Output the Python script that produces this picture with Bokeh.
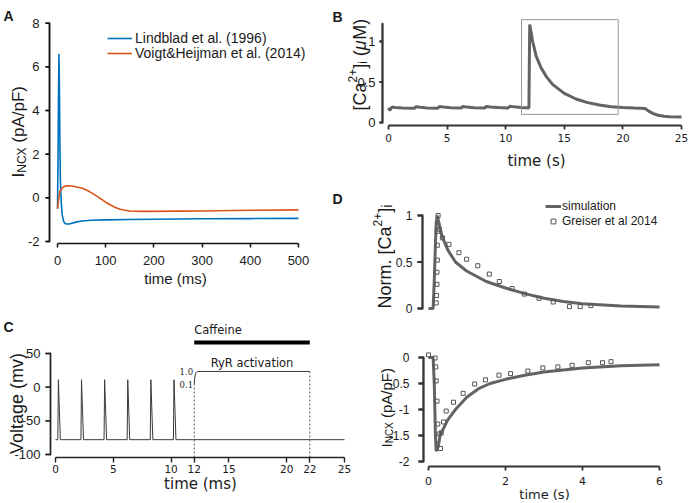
import math
from bokeh.plotting import figure
from bokeh.models import (Range1d, FixedTicker, Label, Legend, LegendItem, NumeralTickFormatter,
                          BoxAnnotation)
from bokeh.layouts import row, column
from bokeh.embed import file_html
from bokeh.resources import INLINE

# ---------------- Panel A : I_NCX during an AP ----------------
a_t_lindblad = [0, 1, 2, 3, 4, 5, 6, 8, 10, 13, 16, 20, 24, 30, 40, 50, 70, 100, 150, 200, 300, 400, 500]
a_i_lindblad = [-0.5, 1.5, 4.5, 6.6, 5.0, 2.5, 0.8, -0.3, -0.8, -1.1, -1.18, -1.2, -1.2, -1.16, -1.1,
                -1.06, -1.03, -1.01, -0.99, -0.98, -0.96, -0.95, -0.94]
a_t_voigt = [0, 2, 5, 10, 15, 20, 30, 40, 50, 60, 70, 80, 90, 100, 110, 120, 130, 140, 150, 170, 200,
             250, 300, 400, 500]
a_i_voigt = [-0.5, -0.1, 0.3, 0.47, 0.53, 0.55, 0.54, 0.5, 0.45, 0.36, 0.24, 0.1, -0.05, -0.2, -0.33,
             -0.44, -0.52, -0.57, -0.6, -0.62, -0.62, -0.61, -0.6, -0.57, -0.55]
a_labels = ["Lindblad et al. (1996)", "Voigt&Heijman et al. (2014)"]
a_xticks = [0, 100, 200, 300, 400, 500]
a_yticks = [-2, 0, 2, 4, 6, 8]

# ---------------- Panel B : [Ca2+]i over the protocol ----------------
b_t = [0, 0.1, 0.3, 0.6, 1.2, 2.2, 2.35, 2.7, 3.3, 4.2, 4.35, 4.7, 5.3, 6.2, 6.35, 6.7, 7.3, 8.2, 8.35,
       8.7, 9.3, 10.2, 10.35, 10.7, 11.3, 11.98, 12.05, 12.3, 12.6, 13.0, 13.5, 14.0, 15.0, 16.0, 17.0,
       18.0, 19.0, 20.0, 21.0, 21.9, 22.2, 22.6, 23.0, 23.5, 24.0, 25.0]
b_ca = [0.18, 0.15, 0.19, 0.185, 0.178, 0.175, 0.195, 0.188, 0.18, 0.177, 0.197, 0.19, 0.182, 0.178,
        0.198, 0.19, 0.183, 0.179, 0.198, 0.191, 0.184, 0.18, 0.2, 0.193, 0.186, 0.18, 1.21, 1.0, 0.82,
        0.68, 0.56, 0.47, 0.36, 0.29, 0.245, 0.215, 0.195, 0.185, 0.178, 0.172, 0.14, 0.11, 0.09, 0.078,
        0.072, 0.068]
b_box_left = [11.35]
b_box_right = [19.6]
b_box_bottom = [0.1]
b_box_top = [1.27]
b_xticks = [0, 5, 10, 15, 20, 25]
b_yticks = [0, 0.5, 1]

# ---------------- Panel C : stimulation protocol ----------------
c_t = [0, 0.2, 0.25, 0.42, 2.2, 2.25, 2.42, 4.2, 4.25, 4.42, 6.2, 6.25, 6.42, 8.2, 8.25, 8.42, 10.2,
       10.25, 10.42, 25]
c_v = [-78, -78, 11, -78, -78, 11, -78, -78, 11, -78, -78, 11, -78, -78, 11, -78, -78, 11, -78, -78]
c_ryr_t = [12.0, 12.03, 12.08, 12.15, 12.25, 22.0]
c_ryr_v = [4.0, 11.5, 17.5, 21.5, 23.3, 23.3]
c_dash_x = [12, 22]
c_dash_bottom = [-104.5, -104.5]
c_dash_top = [4.0, 23.3]
c_caffeine_t = [12, 22]
c_caffeine_level = [66.3, 66.3]
c_caffeine_text = (12, 85.6)
c_ryr_text = (17, 36.6)
c_ryr_levels = [("1.0", 23.3), ("0.1", 4.0)]
c_xticks = [0, 5, 10, 12, 15, 20, 22, 25]
c_yticks = [-100, -50, 0, 50]

# ---------------- Panel D : caffeine transient ----------------
d_top_t = [0, 0.12, 0.15, 0.18, 0.2, 0.23, 0.27, 0.35, 0.5, 0.7, 1.0, 1.5, 2.0, 2.5, 3.0, 3.5, 4.0,
           5.0, 6.0]
d_top_v = [0, 0, 0.3, 0.7, 0.92, 1.0, 0.92, 0.78, 0.63, 0.5, 0.4, 0.29, 0.22, 0.16, 0.11, 0.075, 0.05,
           0.028, 0.015]
d_top_sq_t = [0.2, 0.21, 0.22, 0.22, 0.23, 0.23, 0.24, 0.25, 0.28, 0.36, 0.53, 0.79, 0.99, 1.28, 1.58,
              1.84, 2.17, 2.49, 2.87, 3.24, 3.66, 3.94, 4.22]
d_top_sq_v = [0.06, 0.14, 0.26, 0.39, 0.52, 0.68, 0.83, 1.0, 0.85, 0.76, 0.69, 0.6, 0.53, 0.46, 0.37,
              0.29, 0.215, 0.155, 0.11, 0.07, 0.02, 0.02, 0.03]
d_bot_t = [0, 0.12, 0.15, 0.18, 0.2, 0.25, 0.3, 0.5, 0.7, 1.0, 1.3, 1.6, 2.0, 2.5, 3.0, 3.5, 4.0, 5.0, 6.0]
d_bot_v = [0, 0, -0.5, -1.5, -1.8, -1.72, -1.5, -1.2, -1.0, -0.76, -0.6, -0.5, -0.42, -0.34, -0.28,
           -0.24, -0.2, -0.16, -0.14]
d_bot_sq_t = [0.0, 0.17, 0.19, 0.2, 0.22, 0.24, 0.28, 0.31, 0.33, 0.39, 0.46, 0.65, 0.9, 1.2, 1.48, 1.83,
              2.13, 2.58, 2.97, 3.36, 3.73, 4.15, 4.52, 4.74]
d_bot_sq_v = [0.05, -0.01, -0.18, -0.45, -0.84, -1.28, -1.47, -1.75, -1.45, -1.24, -1.03, -0.86, -0.69,
              -0.51, -0.43, -0.34, -0.31, -0.26, -0.2, -0.18, -0.15, -0.1, -0.1, -0.08]
d_labels = ["simulation", "Greiser et al 2014"]
d_xticks = [0, 2, 4, 6]
d_top_yticks = [0, 0.5, 1]
d_bot_yticks = [-2, -1.5, -1, -0.5, 0]

# ---------------- styling helpers ----------------
TXT = "#1a1a1a"
HELV = "Liberation Sans"
DJV = "DejaVu Sans"
GRAY = "#636363"

# approximate Arial/Liberation Sans advance widths (em) for composite labels
CW = {' ': .278, '(': .333, ')': .333, '[': .278, ']': .278, '.': .278, '/': .278, '+': .584,
      '2': .556, 'A': .667, 'C': .722, 'F': .611, 'I': .278, 'M': .833, 'N': .722, 'X': .667,
      'a': .556, 'i': .222, 'm': .833, 'o': .556, 'p': .556, 'r': .333, 'μ': .576}


def text_w(s, size):
    return sum(CW.get(c, .556) for c in s) * size


class LinMap:
    """linear map between page pixels and data values, both ways"""

    def __init__(self, p0, v0, p1, v1):
        self.p0, self.v0 = p0, v0
        self.k = (v1 - v0) / (p1 - p0)

    def __call__(self, px):
        return self.v0 + (px - self.p0) * self.k

    def page(self, v):
        return self.p0 + (v - self.v0) / self.k


def make_fig(box, fx, fy, xaxis=True):
    left, top, right, bottom = box
    p = figure(width=right - left, height=bottom - top,
               x_range=Range1d(fx(left), fx(right)), y_range=Range1d(fy(bottom), fy(top)),
               output_backend="svg", toolbar_location=None, min_border=0,
               x_axis_location="below" if xaxis else None)
    p.grid.visible = False
    p.outline_line_color = None
    return p


def style_axis(ax, ticks, bounds, loc, font, size, color="#222222", lw=1.0, tick_out=4, standoff=4,
               hide_rule=False):
    ax.fixed_location = loc
    ax.ticker = FixedTicker(ticks=ticks)
    ax.bounds = bounds
    ax.axis_line_color = color
    ax.axis_line_width = lw
    ax.major_tick_line_color = color
    ax.major_tick_line_width = lw
    if hide_rule:
        ax.axis_line_alpha = 0
        ax.major_tick_line_alpha = 0
    ax.major_tick_out = tick_out
    ax.major_tick_in = 0
    ax.minor_tick_line_color = None
    ax.major_label_text_font = font
    ax.major_label_text_font_size = size
    ax.major_label_text_color = TXT
    ax.major_label_standoff = standoff
    ax.formatter = NumeralTickFormatter(format="0.[0]")


def screen_box(p, l, r, b, t, color):
    p.add_layout(BoxAnnotation(left=l, right=r, bottom=b, top=t,
                               left_units="screen", right_units="screen",
                               bottom_units="screen", top_units="screen",
                               fill_color=color, fill_alpha=1, line_alpha=0))


def y_rule(p, box, fx, fy, px_axis, tick_px, bounds, ticks, color, lw):
    # spine and outward ticks of the left y axis (glyphs + annotation boxes drawn last)
    x0 = fx(px_axis)
    x1 = fx(px_axis - tick_px)
    p.segment(x0=[x0], y0=[bounds[0]], x1=[x0], y1=[bounds[1]], line_color=color, line_width=lw)
    p.segment(x0=[x0] * len(ticks), y0=ticks, x1=[x1] * len(ticks), y1=ticks,
              line_color=color, line_width=lw)
    left, top, right, bottom = box
    sx = px_axis - left
    s_lo = bottom - fy.page(bounds[0])
    s_hi = bottom - fy.page(bounds[1])
    screen_box(p, sx - lw / 2, sx + lw / 2, min(s_lo, s_hi) - lw / 2, max(s_lo, s_hi) + lw / 2, color)
    for v in ticks:
        sy = bottom - fy.page(v)
        screen_box(p, sx - tick_px, sx, sy - lw / 2, sy + lw / 2, color)


def add_label(p, x, y, text, font=HELV, size="13px", align="left", baseline="alphabetic",
              angle=0.0, style="normal", units="screen", color=TXT):
    p.add_layout(Label(x=x, y=y, x_units=units, y_units=units, text=text, text_font=font,
                       text_font_size=size, text_align=align, text_baseline=baseline, angle=angle,
                       text_font_style=style, text_color=color))


def rotated_pieces(p, sx, sy0, pieces):
    # vertical (bottom-to-top) label assembled from pieces: (text, size, dx, style)
    y = sy0
    for text, size, dx, style in pieces:
        lead = len(text) - len(text.lstrip(" "))
        y += lead * CW[" "] * size
        body = text.strip(" ")
        add_label(p, sx + dx, y, body, size=f"{size}px", angle=math.pi / 2, style=style)
        y += text_w(body, size)


def one_legend(p, label, rend, loc, size, gw, gh, standoff):
    p.add_layout(Legend(items=[LegendItem(label=label, renderers=[rend])], location=loc,
                        label_text_font=HELV, label_text_font_size=size, label_text_color=TXT,
                        glyph_width=gw, glyph_height=gh, label_height=gh, label_standoff=standoff,
                        spacing=0, padding=0, margin=0, border_line_alpha=0,
                        background_fill_alpha=0))


# canvas boxes on the page: (left, top, right, bottom)
BOX_A = (0, 0, 343, 316)
BOX_B = (343, 0, 690, 190)
BOX_DT = (343, 190, 690, 316)
BOX_C = (0, 316, 355, 503)
BOX_DB = (355, 316, 690, 503)

# ================= Panel A =================
fxa = LinMap(57, 0, 298, 500)
fya = LinMap(241, -2, 22.7, 8)
pa = make_fig(BOX_A, fxa, fya)
r_l = pa.line(a_t_lindblad, a_i_lindblad, line_color="#0072BD", line_width=1.6)
r_v = pa.line(a_t_voigt, a_i_voigt, line_color="#D95319", line_width=1.6)
style_axis(pa.xaxis[0], a_xticks, (0, 500), fya(243), HELV, "13px", color="#111111", lw=1.5,
           standoff=8)
style_axis(pa.yaxis[0], a_yticks, (-2, 8), fxa(49), HELV, "13px", color="#111111", lw=1.5,
           standoff=6, hide_rule=True)
one_legend(pa, a_labels[0], r_l, (107, 316 - 39 - 7), "14px", 25, 14, 3)
one_legend(pa, a_labels[1], r_v, (107, 316 - 53.5 - 7), "14px", 25, 14, 3)
add_label(pa, 175, 316 - 278, "time (ms)", size="15px", align="center", baseline="middle")
rotated_pieces(pa, 18, 316 - 177, [("I", 17, 0, "normal"), ("NCX", 12, 3, "normal"),
                                   (" (pA/pF)", 17, 0, "normal")])
add_label(pa, 3, 316 - 15, "A", size="14px", style="bold")
add_label(pa, 332, 316 - 16, "B", size="14px", style="bold")
add_label(pa, 332, 316 - 198, "D", size="14px", style="bold")
y_rule(pa, BOX_A, fxa, fya, 49, 4, (-2, 8), a_yticks, "#111111", 1.5)

# ================= Panel B =================
fxb = LinMap(388, 0, 681, 25)
fyb = LinMap(122, 0, 41, 1)
pb = make_fig(BOX_B, fxb, fyb)
pb.line(b_t, b_ca, line_color=GRAY, line_width=3)
pb.quad(left=b_box_left, right=b_box_right, bottom=b_box_bottom, top=b_box_top,
        fill_alpha=0, line_color="#999999", line_width=1)
style_axis(pb.xaxis[0], b_xticks, (0, 25), fyb(125), DJV, "10.5px", color="#333333", lw=1.8,
           tick_out=4, standoff=4)
style_axis(pb.yaxis[0], b_yticks, (0, 1.22), fxb(382), HELV, "13px", color="#333333", lw=1.8,
           tick_out=3, standoff=4, hide_rule=True)
add_label(pb, 536 - 343, 190 - 160, "time (s)", font=DJV, size="15px", align="center",
          baseline="middle")
rotated_pieces(pb, 16, 190 - 110, [("[Ca", 18, 0, "normal"), ("2+", 12, -7, "normal"),
                                   ("]", 18, 0, "normal"), ("i", 12, 3, "normal"),
                                   (" (", 18, 0, "normal"), ("μ", 18, 0, "italic"),
                                   ("M)", 18, 0, "normal")])
y_rule(pb, BOX_B, fxb, fyb, 382, 3, (0, 1.22), b_yticks, "#333333", 1.8)

# ================= Panel D (top) =================
fxdt = LinMap(428, 0, 659, 6)
fydt = LinMap(308, 0, 215, 1)
pdt = make_fig(BOX_DT, fxdt, fydt, xaxis=False)
r_sim = pdt.line(d_top_t, d_top_v, line_color=GRAY, line_width=3)
r_sq = pdt.scatter(d_top_sq_t, d_top_sq_v, marker="square", size=4, fill_color=None,
                   line_color="#555555", line_width=1)
style_axis(pdt.yaxis[0], d_top_yticks, (0, 1), fxdt(422), HELV, "12px", color="#333333", lw=1.8,
           tick_out=5, standoff=5, hide_rule=True)
one_legend(pdt, d_labels[0], r_sim, (545 - 343, 316 - 207 - 6), "12px", 16, 12, 1)
one_legend(pdt, d_labels[1], r_sq, (545 - 343, 316 - 221.5 - 6), "12px", 16, 12, 1)
rotated_pieces(pdt, 41, 316 - 308, [("Norm. [Ca", 18, 0, "normal"), ("2+", 12, -7, "normal"),
                                    ("]", 18, 0, "normal"), ("i", 14, 2, "normal")])
y_rule(pdt, BOX_DT, fxdt, fydt, 422, 5, (0, 1), d_top_yticks, "#333333", 1.8)

# ================= Panel C =================
fxc = LinMap(55, 0, 344, 25)
fyc = LinMap(353, 50, 454, -100)
pc = make_fig(BOX_C, fxc, fyc)
pc.line(c_t, c_v, line_color="#3a3a3a", line_width=1)
pc.line(c_ryr_t, c_ryr_v, line_color="#3a3a3a", line_width=1)
pc.segment(x0=c_dash_x, y0=c_dash_bottom, x1=c_dash_x, y1=c_dash_top, line_color="#555555",
           line_width=1, line_dash="2 2")
pc.line(c_caffeine_t, c_caffeine_level, line_color="black", line_width=4)
add_label(pc, c_caffeine_text[0], c_caffeine_text[1], "Caffeine", font=DJV, size="11.5px",
          baseline="middle", units="data")
add_label(pc, c_ryr_text[0], c_ryr_text[1], "RyR activation", font=DJV, size="11.5px",
          align="center", baseline="middle", units="data")
for txt, lvl in c_ryr_levels:
    add_label(pc, 11.9, lvl, txt, font="DejaVu Serif", size="8.5px", align="right",
              baseline="middle", units="data")
style_axis(pc.xaxis[0], c_xticks, (0, 25), fyc(457), DJV, "10.5px", color="#222222", lw=1.4,
           tick_out=5, standoff=2)
style_axis(pc.yaxis[0], c_yticks, (-100, 50), fxc(50), HELV, "13px", color="#222222", lw=1.4,
           tick_out=5, standoff=5, hide_rule=True)
add_label(pc, 200, 503 - 483, "time (ms)", font=DJV, size="15px", align="center", baseline="middle")
add_label(pc, 16, 503 - 403, "Voltage (mv)", size="18px", align="center", baseline="middle",
          angle=math.pi / 2)
add_label(pc, 3, 503 - 326, "C", size="14px", style="bold")
y_rule(pc, BOX_C, fxc, fyc, 50, 5, (-100, 50), c_yticks, "#222222", 1.4)

# ================= Panel D (bottom) =================
fxdb = LinMap(428, 0, 659, 6)
fydb = LinMap(357, 0, 461, -2)
pdb = make_fig(BOX_DB, fxdb, fydb)
pdb.line(d_bot_t, d_bot_v, line_color=GRAY, line_width=3)
pdb.scatter(d_bot_sq_t, d_bot_sq_v, marker="square", size=4, fill_color=None,
            line_color="#555555", line_width=1)
style_axis(pdb.xaxis[0], d_xticks, (0, 6), fydb(466), DJV, "11px", color="#333333", lw=1.8,
           tick_out=4, standoff=6)
style_axis(pdb.yaxis[0], d_bot_yticks, (-2, 0), fxdb(423), HELV, "12px", color="#333333", lw=1.8,
           tick_out=5, standoff=9, hide_rule=True)
add_label(pdb, 544 - 355, 503 - 494, "time (s)", font=DJV, size="13px", align="center",
          baseline="middle")
rotated_pieces(pdb, 31, 503 - 447, [("I", 15, 0, "normal"), ("NCX", 10, 3, "normal"),
                                    (" (pA/pF)", 15, 0, "normal")])
y_rule(pdb, BOX_DB, fxdb, fydb, 423, 5, (-2, 0), d_bot_yticks, "#333333", 1.8)

layout = column(row(pa, column(pb, pdt, spacing=0), spacing=0), row(pc, pdb, spacing=0), spacing=0)

with open("out.html", "w") as f:
    f.write(file_html(layout, INLINE, "Figure"))
